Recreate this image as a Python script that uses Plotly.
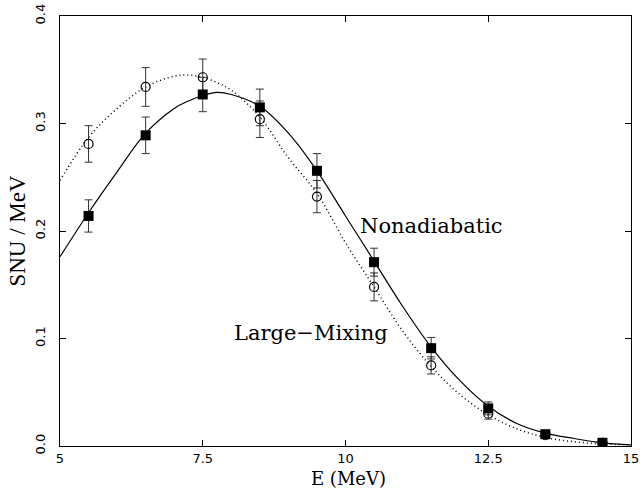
import plotly.graph_objects as go

# Smooth model curves (energy in MeV, SNU per MeV)
curve_e = [5.0, 5.5, 6.0, 6.5, 7.0, 7.25, 7.5, 7.75, 8.0, 8.5, 9.0, 9.5, 10.0,
           10.5, 11.0, 11.5, 12.0, 12.5, 13.0, 13.5, 14.0, 14.5, 15.0]
nonadiabatic_curve = [0.176, 0.217, 0.255, 0.291, 0.314, 0.321, 0.326, 0.329, 0.327,
                      0.316, 0.291, 0.256, 0.214, 0.172, 0.130, 0.092, 0.061, 0.037,
                      0.021, 0.012, 0.007, 0.003, 0.001]
large_mixing_curve = [0.247, 0.287, 0.314, 0.334, 0.344, 0.345, 0.343, 0.338, 0.331,
                      0.306, 0.268, 0.235, 0.189, 0.148, 0.107, 0.074, 0.048, 0.029,
                      0.016, 0.008, 0.004, 0.002, 0.001]

# Binned points with uncertainties
bin_e = [5.5, 6.5, 7.5, 8.5, 9.5, 10.5, 11.5, 12.5, 13.5, 14.5]
nonadiabatic_pts = [0.214, 0.289, 0.327, 0.315, 0.256, 0.171, 0.091, 0.035, 0.011, 0.003]
nonadiabatic_err = [0.015, 0.017, 0.016, 0.017, 0.016, 0.013, 0.010, 0.006, 0.003, 0.001]
large_mixing_pts = [0.281, 0.334, 0.343, 0.304, 0.232, 0.148, 0.075, 0.030, 0.010, 0.003]
large_mixing_err = [0.017, 0.018, 0.017, 0.017, 0.015, 0.013, 0.008, 0.005, 0.003, 0.001]

x_ticks = [5, 7.5, 10, 12.5, 15]
x_tick_text = ["5", "7.5", "10", "12.5", "15"]
y_ticks = [0.0, 0.1, 0.2, 0.3, 0.4]
y_tick_text = ["0.0", "0.1", "0.2", "0.3", "0.4"]

fig = go.Figure()

fig.add_trace(go.Scatter(
    x=curve_e, y=large_mixing_curve, mode="lines", line_shape="spline",
    line=dict(color="black", width=1.5, dash="1px,3px"), showlegend=False))
fig.add_trace(go.Scatter(
    x=curve_e, y=nonadiabatic_curve, mode="lines", line_shape="spline",
    line=dict(color="black", width=1.2), showlegend=False))

fig.add_trace(go.Scatter(
    x=bin_e, y=large_mixing_pts, mode="markers",
    marker=dict(symbol="circle-open", size=9, color="black", line=dict(width=1.2)),
    error_y=dict(type="data", array=large_mixing_err, color="#333333", thickness=1, width=4),
    showlegend=False))
fig.add_trace(go.Scatter(
    x=bin_e, y=nonadiabatic_pts, mode="markers",
    marker=dict(symbol="square", size=10, color="black"),
    error_y=dict(type="data", array=nonadiabatic_err, color="#333333", thickness=1, width=4),
    showlegend=False))

label_font = dict(family="DejaVu Serif", size=21, color="black")
fig.add_annotation(x=11.51, y=0.2047, text="Nonadiabatic", showarrow=False, font=label_font)
fig.add_annotation(x=9.40, y=0.105, text="Large\u2212Mixing", showarrow=False, font=label_font)

# x-axis title placed just under the tick labels
fig.add_annotation(x=10.05, xref="x", y=0, yref="paper", yanchor="top", yshift=-21,
                   text="E (MeV)", showarrow=False, borderpad=0,
                   font=dict(family="DejaVu Serif", size=18, color="black"))

fig.update_layout(
    width=642, height=489,
    margin=dict(l=60, r=11, t=16, b=43),
    plot_bgcolor="white", paper_bgcolor="white",
    xaxis=dict(
        range=[5, 15], tickvals=x_ticks, ticktext=x_tick_text, automargin=False,
        ticks="inside", ticklen=6, tickcolor="black",
        showline=True, linecolor="black", linewidth=1, mirror="ticks",
        showgrid=False, zeroline=False, ticklabelstandoff=0,
        tickfont=dict(family="DejaVu Sans", size=13, color="black"),
    ),
    yaxis=dict(
        range=[0, 0.4], tickvals=y_ticks, ticktext=y_tick_text, automargin=False,
        ticks="inside", ticklen=6, tickcolor="black", tickangle=-90,
        showline=True, linecolor="black", linewidth=1, mirror="ticks",
        showgrid=False, zeroline=False, ticklabelstandoff=9,
        tickfont=dict(family="DejaVu Sans", size=13, color="black"),
        title=dict(text="SNU / MeV", standoff=0,
                   font=dict(family="Liberation Serif", size=23, color="black")),
    ),
)

fig.write_html("out.html")
